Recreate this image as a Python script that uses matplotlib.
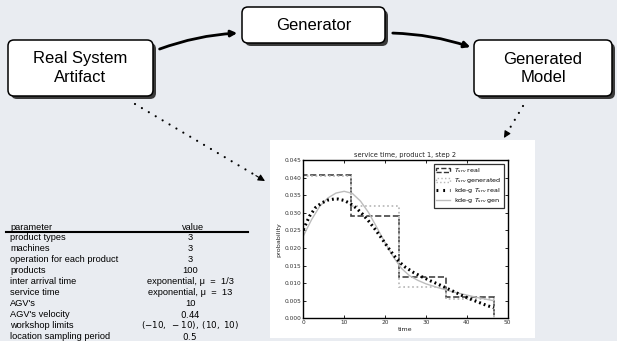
import matplotlib
matplotlib.use("Agg")
import matplotlib.pyplot as plt
from matplotlib.patches import FancyBboxPatch, Rectangle, FancyArrowPatch, Patch
from matplotlib.lines import Line2D

plt.rcParams['mathtext.fontset'] = 'dejavusans'

# ---------------- data ----------------
box_labels = ["Real System\nArtifact", "Generator", "Generated\nModel"]

param_names = ["product types", "machines", "operation for each product", "products",
               "inter arrival time", "service time", "AGV's", "AGV's velocity",
               "workshop limits", "location sampling period"]
param_values = ["3", "3", "3", "100",
                "exponential, μ  =  1/3", "exponential, μ  =  13",
                "10", r"$0.44$", r"$(-10,\;-10),\;(10,\;10)$", r"$0.5$"]

bin_edges = [0, 11.65, 23.3, 34.95, 46.6]
hist_real = [0.0406, 0.0290, 0.0118, 0.0060]
hist_gen = [0.0404, 0.0318, 0.0088, 0.0056]

kde_real_x = [0, 1.5, 3, 4.5, 6, 7.5, 8.5, 10, 11.5, 13, 14.5, 16, 17.5, 19, 20.5, 22,
              23.5, 25, 27, 29, 31, 33, 35, 37, 39, 41, 43, 45, 46.6]
kde_real_y = [0.0252, 0.0290, 0.0315, 0.0328, 0.0336, 0.0339, 0.0339, 0.0335, 0.0326,
              0.0313, 0.0296, 0.0276, 0.0254, 0.0230, 0.0205, 0.0181, 0.0160, 0.0145,
              0.0130, 0.0118, 0.0107, 0.0097, 0.0086, 0.0075, 0.0064, 0.0054, 0.0045,
              0.0036, 0.0030]
kde_gen_x = [0, 2, 4, 6, 8, 10, 12, 14, 16, 18, 20, 22, 24, 26, 28, 30, 33, 36, 40, 43, 46.6]
kde_gen_y = [0.0234, 0.0280, 0.0318, 0.0342, 0.0356, 0.0361, 0.0355, 0.0333, 0.0300,
             0.0258, 0.0215, 0.0175, 0.0142, 0.0121, 0.0108, 0.0098, 0.0087, 0.0077,
             0.0066, 0.0058, 0.0050]

BG = '#e9ecf1'
W, H = 617, 341
fig = plt.figure(figsize=(W / 100, H / 100), dpi=100, facecolor=BG)

# overlay axes in pixel coordinates
ov = fig.add_axes([0, 0, 1, 1], zorder=0)
ov.set_xlim(0, W)
ov.set_ylim(H, 0)
ov.axis('off')
ov.set_facecolor(BG)

SANS = 'Liberation Sans'

def box(x0, y0, x1, y1, label):
    sh = FancyBboxPatch((x0 + 3, y0 + 3), x1 - x0, y1 - y0,
                        boxstyle="round,pad=0,rounding_size=6",
                        fc='#3a3a3a', ec='none', zorder=2)
    ov.add_patch(sh)
    b = FancyBboxPatch((x0, y0), x1 - x0, y1 - y0,
                       boxstyle="round,pad=0,rounding_size=6",
                       fc='white', ec='black', lw=1.1, zorder=3)
    ov.add_patch(b)
    ov.text((x0 + x1) / 2, (y0 + y1) / 2, label, ha='center', va='center',
            fontsize=12, family=SANS, linespacing=1.25, zorder=4)

box(8, 40, 153, 96, box_labels[0])
box(242, 7, 385, 43, box_labels[1])
box(474, 40, 612, 96, box_labels[2])

# solid curved arrows
a1 = FancyArrowPatch((157, 50), (240, 33), connectionstyle="arc3,rad=-0.08",
                     arrowstyle='-|>', mutation_scale=9, lw=2, color='black', zorder=5)
a2 = FancyArrowPatch((390, 33), (473, 48), connectionstyle="arc3,rad=-0.08",
                     arrowstyle='-|>', mutation_scale=9, lw=2, color='black', zorder=5)
ov.add_patch(a1)
ov.add_patch(a2)

# dotted arrows
def dotted_arrow(p0, p1):
    x0, y0 = p0
    x1, y1 = p1
    f = 0.93
    xm, ym = x0 + (x1 - x0) * f, y0 + (y1 - y0) * f
    ov.plot([x0, xm], [y0, ym], color='black', lw=1.6, dashes=[0.01, 3.6],
            dash_capstyle='round', zorder=5)
    ov.annotate('', xy=(x1, y1), xytext=(xm, ym),
                arrowprops=dict(arrowstyle='-|>', color='black', lw=0.8,
                                mutation_scale=10, shrinkA=0, shrinkB=0), zorder=5)

dotted_arrow((135, 104), (265, 181))
dotted_arrow((523, 106), (504, 138))

# white panel behind plot
ov.add_patch(Rectangle((270, 140), 265, 198, fc='white', ec='none', zorder=1))

# ---------------- table ----------------
TFS = 6.7
ov.text(10, 227, "parameter", fontsize=TFS, family=SANS, va='center', ha='left')
ov.text(193, 227, "value", fontsize=TFS, family=SANS, va='center', ha='center')
ov.plot([6, 248], [231.5, 231.5], color='black', lw=1.5)
row_y0, row_dy = 237.5, 10.95
for i, (n, v) in enumerate(zip(param_names, param_values)):
    y = row_y0 + i * row_dy
    ov.text(10, y, n, fontsize=TFS, family=SANS, va='center', ha='left')
    fs = 6.3 if v.startswith('$') else TFS
    ov.text(190, y, v, fontsize=fs, family=SANS, va='center', ha='center')

# ---------------- plot ----------------
ax = fig.add_axes([303.3 / W, 1 - 318.3 / H, (507.7 - 303.3) / W, (318.3 - 160) / H], zorder=3)
ax.set_facecolor('white')
ax.stairs(hist_real, bin_edges, baseline=0, color='#444444', lw=1.2, linestyle='--')
ax.stairs(hist_gen, bin_edges, baseline=0, color='#b5b5b5', lw=1.2, linestyle=':')
ax.plot(kde_gen_x, kde_gen_y, color='#bdbdbd', lw=1.0)
ax.plot(kde_real_x, kde_real_y, color='black', lw=2.2, linestyle=(0, (0.6, 1.0)))

ax.set_xlim(0, 50)
ax.set_ylim(0, 0.045)
ax.set_xticks([0, 10, 20, 30, 40, 50])
ax.set_yticks([0.000, 0.005, 0.010, 0.015, 0.020, 0.025, 0.030, 0.035, 0.040, 0.045])
ax.set_yticklabels(["0.000", "0.005", "0.010", "0.015", "0.020", "0.025", "0.030",
                    "0.035", "0.040", "0.045"])
ax.tick_params(direction='in', length=2.5, width=0.6, labelsize=4.2, pad=1.5,
               top=True, right=True, colors='black')
ax.tick_params(axis='both', labelcolor='#333333')
for s in ax.spines.values():
    s.set_linewidth(1.0)
ax.set_title("service time, product 1, step 2", fontsize=4.8, pad=2.5, color='#222222')
ax.set_xlabel("time", fontsize=4.6, labelpad=1.5, color='#222222')
ax.set_ylabel("probability", fontsize=4.6, labelpad=2, color='#222222')

handles = [Patch(fc='none', ec='#333333', ls='--', lw=1.0),
           Patch(fc='none', ec='#b5b5b5', ls=':', lw=1.0),
           Line2D([], [], color='black', lw=2.2, linestyle=(0, (0.6, 1.6))),
           Line2D([], [], color='#bdbdbd', lw=1.0)]
labels = [r"$T_{srv}$ real", r"$T_{srv}$ generated", r"kde-g $T_{srv}$ real",
          r"kde-g $T_{srv}$ gen"]
leg = ax.legend(handles, labels, loc='upper right', fontsize=4.6, frameon=True,
                fancybox=False, edgecolor='black', borderpad=0.4, handlelength=2.2,
                handletextpad=0.6, labelspacing=0.15, borderaxespad=0.6)
leg.get_frame().set_linewidth(0.9)

fig.savefig("out.png", dpi=100, facecolor=BG)
